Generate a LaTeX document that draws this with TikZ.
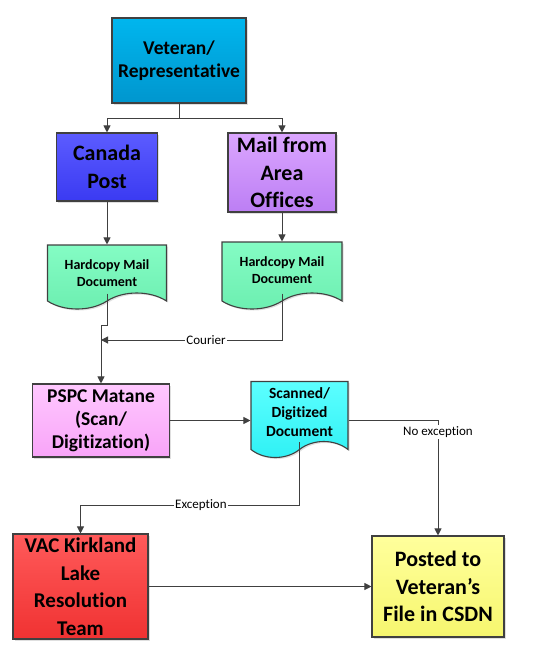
\documentclass[tikz,border=0pt]{standalone}
\usepackage{fontspec}
\setmainfont{Carlito}[Ligatures=NoCommon]
\usepackage{xcolor}
\definecolor{edgegray}{HTML}{404040}
\definecolor{vettop}{HTML}{00B6EE}
\definecolor{vetbot}{HTML}{0096CE}
\definecolor{posttop}{HTML}{5C5CFF}
\definecolor{postbot}{HTML}{3A3AF2}
\definecolor{areatop}{HTML}{DBA6FF}
\definecolor{areabot}{HTML}{BC7EF4}
\definecolor{mintgreen}{HTML}{84FCC4}
\definecolor{mintdark}{HTML}{6CEEB0}
\definecolor{pinktop}{HTML}{FFC8FF}
\definecolor{pinkbot}{HTML}{F8A4F8}
\definecolor{aquatop}{HTML}{5CFFFF}
\definecolor{aquabot}{HTML}{2EF0F4}
\definecolor{redtop}{HTML}{FF5A5A}
\definecolor{redbot}{HTML}{F03232}
\definecolor{yellowtop}{HTML}{FFFF9C}
\definecolor{yellowbot}{HTML}{F6F66E}
\usepackage{tikz}
\usetikzlibrary{arrows.meta,positioning,shapes.symbols,shadows}
\tikzset{
  >={Triangle[length=7pt,width=7pt]},
  box/.style={rectangle,draw=edgegray,line width=1.1pt,align=center,inner sep=2pt,
    drop shadow={opacity=0.25,shadow xshift=1.5pt,shadow yshift=-1.5pt}},
  doc/.style={box,tape,tape bend top=none,tape bend bottom=in and out,tape bend height=16pt},
  link/.style={->,draw=edgegray,line width=1pt},
  lbl/.style={fill=white,inner sep=1pt,font=\fontsize{13}{15}\selectfont},
  hugetext/.style={font=\fontsize{22}{27.5}\selectfont\bfseries},
  bigtext/.style={font=\fontsize{19.5}{23}\selectfont\bfseries},
  redtext/.style={font=\fontsize{21}{27.5}\selectfont\bfseries},
  midtext/.style={font=\fontsize{15.5}{19}\selectfont\bfseries},
  smalltext/.style={font=\fontsize{14}{17}\selectfont\bfseries}
}

\begin{document}
\begin{tikzpicture}[x=1pt,y=-1pt]
  \useasboundingbox (0,0) rectangle (540,654);
  % Sources
  \node[box,bigtext,top color=vettop,bottom color=vetbot,minimum width=134pt,minimum height=85pt] (veteran) at (179,60.5) {Veteran/\\Representative};
  \node[box,hugetext,top color=posttop,bottom color=postbot,below of=veteran,node distance=106.5pt,xshift=-72pt,minimum width=101pt,minimum height=68pt] (canada) {Canada\\Post};
  \node[box,hugetext,top color=areatop,bottom color=areabot,below of=veteran,node distance=112pt,xshift=103pt,minimum width=108pt,minimum height=79pt] (mail) {Mail from\\Area\\Offices};

  % Paper documents
  \node[doc,top color=mintgreen,bottom color=mintdark,below of=canada,node distance=111pt,yshift=9pt,minimum width=119pt,minimum height=64pt,
    label={[smalltext,align=center,yshift=-4pt]center:Hardcopy Mail\\Document}] (doc1) {};
  \node[doc,top color=mintgreen,bottom color=mintdark,below of=mail,node distance=104pt,yshift=9pt,minimum width=120pt,minimum height=67pt,
    label={[smalltext,align=center,yshift=-3pt]center:Hardcopy Mail\\Document}] (doc2) {};

  % Scanning
  \node[box,bigtext,top color=pinktop,bottom color=pinkbot,below of=doc1,node distance=151.5pt,xshift=-6pt,minimum width=137pt,minimum height=73pt] (pspc) {PSPC Matane\\(Scan/\\Digitization)};
  \node[doc,top color=aquatop,bottom color=aquabot,right of=pspc,node distance=198.5pt,yshift=9pt,minimum width=97pt,minimum height=76pt,
    label={[midtext,align=center,yshift=-1pt]center:Scanned/\\Digitized\\Document}] (scan) {};

  % Outcomes
  \node[box,redtext,top color=redtop,bottom color=redbot,below of=pspc,node distance=166pt,xshift=-20.5pt,minimum width=135pt,minimum height=105pt] (vac) {VAC Kirkland\\Lake\\Resolution\\Team};
  \node[box,hugetext,top color=yellowtop,bottom color=yellowbot,right of=vac,node distance=357.5pt,minimum width=132pt,minimum height=101pt] (posted) {Posted to\\Veteran’s\\File in CSDN};

  \coordinate (jog) at (101,325);
  \coordinate (courier) at (101,340);

  % Arrows
  \draw[link] (veteran.south) -- ++(0,15) -| (canada.north);
  \draw[link] (veteran.south) -- ++(0,15) -| (mail.north);
  \draw[link] (canada) -- (doc1);
  \draw[link] (mail) -- (doc2);
  \draw[link] (doc1.south) |- (jog) -- (pspc.north);
  \draw[link] (doc2.south) |- node[lbl,pos=0.71] {Courier} (courier);
  \draw[link] (pspc.east) -- (pspc.east -| scan.west);
  \draw[link] (pspc.east -| scan.east) -| node[lbl,pos=0.55] {No exception} (posted.north);
  \draw[link] (scan.south) -- ++(0,63) -| node[lbl,pos=0.225] {Exception} (vac.north);
  \draw[link] (vac) -- (posted);
\end{tikzpicture}
\end{document}
